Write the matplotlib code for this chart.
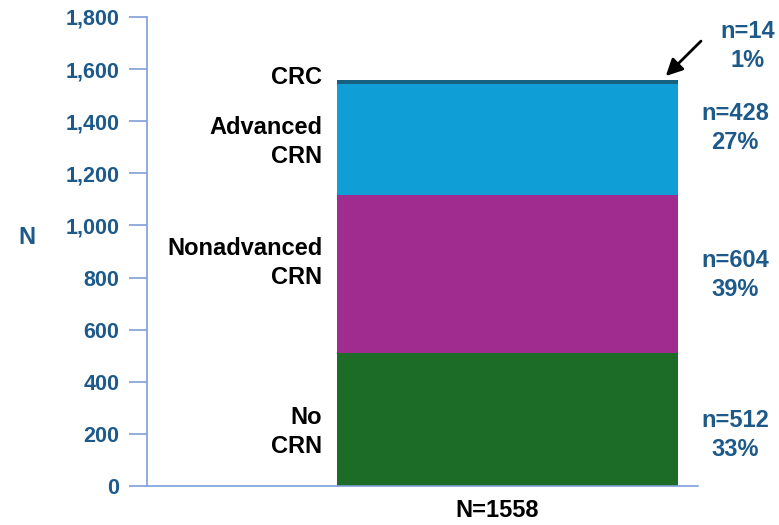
import matplotlib
matplotlib.use("Agg")
import matplotlib.pyplot as plt

# Outcome groups, stacked bottom to top
categories = ["No\nCRN", "Nonadvanced\nCRN", "Advanced\nCRN", "CRC"]
counts = [512, 604, 428, 14]
percents = ["33%", "39%", "27%", "1%"]
colors = ["#1C6B26", "#A02C90", "#0F9ED6", "#17607F"]
total_label = "N=1558"
y_ticks = [0, 200, 400, 600, 800, 1000, 1200, 1400, 1600, 1800]

plt.rcParams["font.family"] = ["Liberation Sans", "DejaVu Sans"]
blue_txt = "#1D5A8A"
axis_col = "#7F9FD9"

fig = plt.figure(figsize=(7.79, 5.25), dpi=100)
ax = fig.add_axes([147 / 779, 39 / 525, 551 / 779, 469 / 525])

bar_x = 0.654
bar_w = 0.619
bottom = 0
for c, col in zip(counts, colors):
    ax.bar(bar_x, c, width=bar_w, bottom=bottom, color=col, edgecolor="none")
    bottom += c

ax.set_xlim(0, 1)
ax.set_ylim(0, 1800)
ax.set_yticks(y_ticks)
ax.set_yticklabels([f"{v:,}" for v in y_ticks])
ax.set_xticks([])

for side in ("top", "right"):
    ax.spines[side].set_visible(False)
for side in ("left", "bottom"):
    ax.spines[side].set_color(axis_col)
    ax.spines[side].set_linewidth(1.2)

ax.tick_params(axis="y", direction="out", length=13, width=1.2, color=axis_col,
               pad=7, labelsize=15.5, labelcolor=blue_txt)
for t in ax.get_yticklabels():
    t.set_fontweight("bold")

ax.text(-0.218, 955, "N", fontsize=17, fontweight="bold", color=blue_txt,
        ha="center", va="center", clip_on=False)

# Category names on the left of the bar
left_pos = [207, 856, 1320, 1566]
for name, y in zip(categories, left_pos):
    ax.text(0.318, y, name, fontsize=17, fontweight="bold", color="black",
            ha="right", va="center", linespacing=1.3, clip_on=False)

# Counts and shares on the right of the bar
right_pos = [(1.067, 196), (1.067, 810), (1.067, 1374), (1.09, 1688)]
for c, p, (x, y) in zip(counts, percents, right_pos):
    ax.text(x, y, f"n={c}\n{p}", fontsize=17, fontweight="bold",
            color=blue_txt, ha="center", va="center", linespacing=1.3,
            clip_on=False)

# Arrow pointing at the thin CRC segment
ax.annotate("", xy=(0.938, bottom + 8), xytext=(1.009, 1715),
            arrowprops=dict(arrowstyle="-|>,head_length=1.0,head_width=0.5",
                            color="black", lw=2),
            annotation_clip=False)

ax.text(0.636, -50, total_label, fontsize=17, fontweight="bold",
        color="black", ha="center", va="top", clip_on=False)

fig.savefig("out.png", dpi=100)
